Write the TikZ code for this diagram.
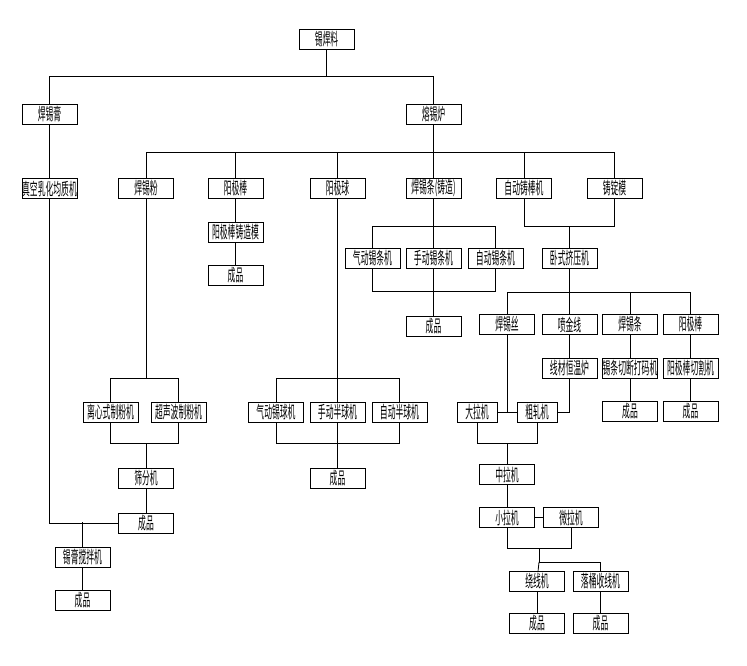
\documentclass[tikz,border=0pt]{standalone}
\usepackage{fontspec}
\newfontfamily\cjk[FakeStretch=0.46]{Noto Sans CJK SC}
\begin{document}
\begin{tikzpicture}[x=1pt,y=-1pt,
  box/.style={draw, line width=0.8pt, minimum width=55pt, minimum height=20pt, inner sep=0pt,
    font=\cjk\fontsize{17}{17}\selectfont},
  sbox/.style={box, minimum width=40pt},
  conn/.style={line width=0.8pt}]
\useasboundingbox (0,0) rectangle (747,665);
% nodes
\node[box] (top) at (326.5,39.5) {锡焊料};
\node[box] (hgf) at (49.5,114) {焊锡膏};
\node[box] (rxl) at (433.5,114) {熔锡炉};
\node[box] (zk) at (49.5,188.5) {真空乳化均质机};
\node[box] (hxf) at (146,188.5) {焊锡粉};
\node[box] (yjb) at (235.5,188.5) {阳极棒};
\node[box] (yjq) at (337.5,188.5) {阳极球};
\node[box] (hxt) at (433.5,188.5) {焊锡条(铸造)};
\node[box] (zdzb) at (524,188.5) {自动铸棒机};
\node[box] (zdm) at (614.5,188.5) {铸锭模};
\node[box] (yjbm) at (235.5,232) {阳极棒铸造模};
\node[box] (cp1) at (235.5,275) {成品};
\node[box] (qdt) at (372.5,258) {气动锡条机};
\node[box] (sdt) at (433.5,258) {手动锡条机};
\node[box] (zdt) at (495.5,258) {自动锡条机};
\node[box] (cp2) at (433.5,326) {成品};
\node[box] (wsj) at (569.5,258.5) {卧式挤压机};
\node[box] (hxs) at (507,324.5) {焊锡丝};
\node[box] (pjx) at (569.5,324.5) {喷金线};
\node[box] (hxt2) at (630,324.5) {焊锡条};
\node[box] (yjb2) at (690.5,324.5) {阳极棒};
\node[box] (xchw) at (569.5,368) {线材恒温炉};
\node[box] (xtqd) at (630,368) {锡条切断打码机};
\node[box] (yjbq) at (690.5,368) {阳极棒切割机};
\node[box] (cp3) at (630,411.5) {成品};
\node[box] (cp4) at (690.5,411.5) {成品};
\node[sbox] (dlj) at (477,412) {大拉机};
\node[sbox] (czj) at (537,412) {粗轧机};
\node[box] (zlj) at (507,474.5) {中拉机};
\node[box] (xlj) at (507,517.5) {小拉机};
\node[box] (wlj) at (571,517.5) {微拉机};
\node[box] (rxj) at (537,581) {绕线机};
\node[box] (ltj) at (600.5,581) {落桶收线机};
\node[box] (cp5) at (537,623) {成品};
\node[box] (cp6) at (600.5,623) {成品};
\node[box] (lxs) at (110.5,412) {离心式制粉机};
\node[box] (csb) at (178.5,412) {超声波制粉机};
\node[box] (sfj) at (146,478) {筛分机};
\node[box] (cp7) at (146,523) {成品};
\node[box] (gjb) at (82.5,557) {锡膏搅拌机};
\node[box] (cp8) at (82.5,600.5) {成品};
\node[box] (qdq) at (276,412) {气动锡球机};
\node[box] (sdq) at (337.5,412) {手动半球机};
\node[box] (zdq) at (399.5,412) {自动半球机};
\node[box] (cp9) at (337.5,478) {成品};
% junction coordinates
\coordinate (j1) at (326.5,76);
\coordinate (j2) at (433.5,152);
\coordinate (j3) at (433.5,226);
\coordinate (j4) at (433.5,291);
\coordinate (j5) at (569.5,226);
\coordinate (j6) at (569.5,292);
\coordinate (j7) at (507,412);
\coordinate (j8) at (507,443);
\coordinate (j9) at (539,548);
\coordinate (j10) at (539,562);
\coordinate (j11) at (337.5,378);
\coordinate (j12) at (337.5,443);
\coordinate (j13) at (146,378);
\coordinate (j14) at (146,443);
\coordinate (j15) at (82.5,522);
\begin{scope}[conn]
\draw (top) -- (j1);
\draw (hgf.north) -- (hgf.north |- j1) -- (rxl.north |- j1) -- (rxl.north);
\draw (hgf) -- (zk);
\draw (rxl) -- (j2);
\draw (hxf.north) -- (hxf.north |- j2) -- (zdm.north |- j2) -- (zdm.north);
\foreach \n in {yjb,yjq,hxt,zdzb} \draw (\n.north) -- (\n.north |- j2);
\draw (yjb) -- (yjbm) -- (cp1);
% solder bar casting
\draw (hxt) -- (j3);
\draw (qdt.north) -- (qdt.north |- j3) -- (zdt.north |- j3) -- (zdt.north);
\draw (sdt.north) -- (sdt.north |- j3);
\draw (qdt.south) -- (qdt.south |- j4) -- (zdt.south |- j4) -- (zdt.south);
\draw (sdt) -- (cp2);
% extrusion
\draw (zdzb.south) -- (zdzb.south |- j5) -- (zdm.south |- j5) -- (zdm.south);
\draw (j5) -- (wsj);
\draw (wsj) -- (j6);
\draw (hxs.north) -- (hxs.north |- j6) -- (yjb2.north |- j6) -- (yjb2.north);
\draw (pjx.north) -- (pjx.north |- j6);
\draw (hxt2.north) -- (hxt2.north |- j6);
\draw (pjx) -- (xchw);
\draw (hxt2) -- (xtqd) -- (cp3);
\draw (yjb2) -- (yjbq) -- (cp4);
% wire drawing
\draw (hxs) -- (j7);
\draw (dlj) -- (czj);
\draw (xchw.south) -- (xchw.south |- czj.east) -- (czj.east);
\draw (dlj.south) -- (dlj.south |- j8) -- (czj.south |- j8) -- (czj.south);
\draw (j8) -- (zlj);
\draw (zlj) -- (xlj);
\draw (xlj) -- (wlj);
\draw (xlj.south) -- (xlj.south |- j9) -- (wlj.south |- j9) -- (wlj.south);
\draw (j9) -- (j10) -- (ltj.north |- j10) -- (ltj.north);
\draw (j10) -- (rxj);
\draw (rxj) -- (cp5);
\draw (ltj) -- (cp6);
% anode balls
\draw (yjq) -- (j11);
\draw (qdq.north) -- (qdq.north |- j11) -- (zdq.north |- j11) -- (zdq.north);
\draw (sdq.north) -- (sdq.north |- j11);
\draw (qdq.south) -- (qdq.south |- j12) -- (zdq.south |- j12) -- (zdq.south);
\draw (sdq) -- (cp9);
% solder powder
\draw (hxf) -- (j13);
\draw (lxs.north) -- (lxs.north |- j13) -- (csb.north |- j13) -- (csb.north);
\draw (lxs.south) -- (lxs.south |- j14) -- (csb.south |- j14) -- (csb.south);
\draw (j14) -- (sfj);
\draw (sfj) -- (cp7);
% paste
\draw (zk.south) -- (zk.south |- cp7.west) -- (cp7.west);
\draw (j15) -- (gjb);
\draw (gjb) -- (cp8);
\end{scope}
\end{tikzpicture}
\end{document}
